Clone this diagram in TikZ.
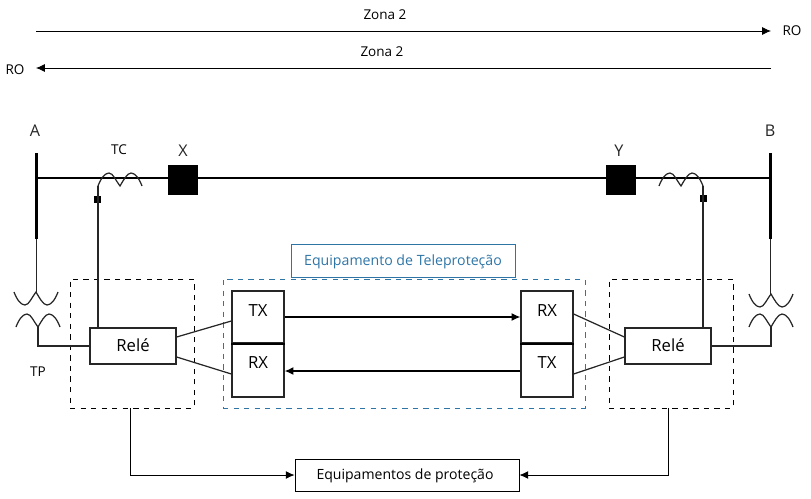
\documentclass[tikz,border=0pt]{standalone}
\usepackage{xcolor}
\usepackage{fontspec}
\setmainfont{Open Sans}
\usetikzlibrary{shapes,arrows,arrows.meta,positioning,fit,backgrounds}
\definecolor{azulteleprot}{HTML}{2E75A6}
\definecolor{linha}{HTML}{262626}
\tikzset{
    caixa/.style={draw=linha, line width=0.75pt, inner sep=0pt, font=\fontsize{9.5}{11}\selectfont},
    tracejado/.style={draw=black, dashed, line width=0.5pt, inner sep=0pt},
    fio/.style={draw=linha, line width=0.7pt},
    seta/.style={-{Latex[length=5pt,width=4.5pt]}, draw=black, line width=0.45pt},
    rotulo/.style={inner sep=0pt, font=\fontsize{7.7}{9}\selectfont},
    letra/.style={inner sep=0pt, text=linha, font=\fontsize{9.2}{11}\selectfont},
    bobina/.pic={
        \draw[linha, line width=0.7pt] (0,0) .. controls (3,-8) and (7,-13) .. (11,-13)
            .. controls (15,-13) and (18,-5) .. (22,0)
            .. controls (25,-5) and (29,-13) .. (33,-13)
            .. controls (37,-13) and (41,-8) .. (44,0);
    }
}
\begin{document}
\begin{tikzpicture}[x=0.02cm, y=-0.02cm]
    \useasboundingbox (0,0) rectangle (811,498);

    % Zonas
    \node[rotulo] (zona1) at (385,15) {Zona 2};
    \node[rotulo] (zona2) at (382,52) {Zona 2};
    \node[rotulo] (ro1) at (792,31) {RO};
    \node[rotulo] (ro2) at (15,70) {RO};
    \coordinate (z1a) at (36,31);
    \coordinate (z1b) at (771,31);
    \coordinate (z2a) at (771,68);
    \coordinate (z2b) at (36,68);
    \draw[seta] (z1a) -- (z1b);
    \draw[seta] (z2a) -- (z2b);

    % Barras e linha
    \node[letra] (barraA) at (35,131) {A};
    \node[letra] (barraB) at (770,131) {B};
    \node[letra] (nomeX) at (183,151) {X};
    \node[letra] (nomeY) at (619,151) {Y};
    \node[rotulo] (tc) at (119,150) {TC};
    \node[rotulo] (tp) at (38,372) {TP};
    \coordinate (a1) at (36.4,153);
    \coordinate (a2) at (36,178);
    \coordinate (a3) at (36.4,239);
    \coordinate (b1) at (770.8,153);
    \coordinate (b2) at (771,178);
    \coordinate (b3) at (770.8,239);
    \draw[line width=1.6pt] (a1) -- (a3);
    \draw[line width=1.6pt] (b1) -- (b3);
    \draw[line width=1.4pt] (a2) -- (b2);
    \node[fill=black, minimum size=0.61cm, inner sep=0pt] (disjX) at (183,180) {};
    \node[fill=black, minimum size=0.61cm, inner sep=0pt] (disjY) at (621,180) {};

    % Caixas tracejadas
    \node[tracejado, minimum width=2.48cm, minimum height=2.58cm] (painelA) at (132,343.5) {};
    \node[tracejado, minimum width=2.48cm, minimum height=2.58cm] (painelB) at (671,343.5) {};
    \node[draw=azulteleprot, dashed, line width=0.5pt, minimum width=7.24cm, minimum height=2.58cm] (painelT) at (404,343.5) {};
    \node[draw=azulteleprot, line width=0.4pt, text=azulteleprot, minimum width=4.48cm, minimum height=0.66cm, inner sep=0pt, text height=0.24cm, text depth=0.06cm, font=\fontsize{8.05}{10}\selectfont] (titulo) at (403,260.5) {Equipamento de Teleproteção};

    % Reles e teleprotecao
    \node[caixa, fill=white, minimum width=1.72cm, minimum height=0.72cm, text depth=0.04cm] (releA) at (133,346) {Relé};
    \node[caixa, fill=white, minimum width=1.72cm, minimum height=0.72cm, text depth=0.04cm] (releB) at (668,346) {Relé};
    \node[caixa, minimum width=1.04cm, minimum height=1.04cm, text depth=0.26cm, fill=white] (txA) at (258,317) {TX};
    \node[caixa, minimum width=1.04cm, minimum height=1.08cm, text depth=0.28cm, fill=white] (rxA) at (258,370) {RX};
    \node[caixa, minimum width=1.04cm, minimum height=1.04cm, text depth=0.26cm, fill=white] (rxB) at (547,317) {RX};
    \node[caixa, minimum width=1.04cm, minimum height=1.08cm, text depth=0.28cm, fill=white] (txB) at (547,370) {TX};
    \draw[line width=1.1pt] (txA.south west) -- (txA.south east);
    \draw[line width=1.1pt] (rxB.south west) -- (rxB.south east);

    % Ligacoes entre reles e equipamentos
    \draw[fio] ([yshift=0.18cm]releA.east) -- ([yshift=-0.08cm]txA.east -| txA.west);
    \draw[fio] ([yshift=-0.22cm]releA.east) -- ([yshift=-0.08cm]rxA.east -| rxA.west);
    \draw[fio] ([yshift=0.06cm]rxB.east) -- ([yshift=0.18cm]releB.west);
    \draw[fio] ([yshift=-0.08cm]txB.east) -- ([yshift=-0.22cm]releB.west);
    \draw[seta, line width=0.6pt] (txA.east) -- (rxB.west);
    \draw[seta, line width=0.7pt] ([yshift=-0.02cm]txB.west) -- ([yshift=-0.02cm]rxA.east);

    % TC
    \pic at (98,186) {bobina};
    \pic at (659,186) {bobina};
    \node[fill=black, minimum size=0.14cm, inner sep=0pt] (marcaA) at (97,199) {};
    \node[fill=black, minimum size=0.14cm, inner sep=0pt] (marcaB) at (703,198) {};
    \coordinate (tcA) at (98,186);
    \coordinate (tcB) at (703,186);
    \draw[fio] (tcA) -- (tcA |- releA.north);
    \draw[fio] (tcB) -- (tcB |- releB.north);

    % TP
    \pic[yscale=-1] at (14,292) {bobina};
    \pic at (16,327) {bobina};
    \pic[yscale=-1] at (749,294) {bobina};
    \pic at (749,327) {bobina};
    \coordinate (tpA1) at (36.4,292);
    \coordinate (tpA2) at (38,327);
    \coordinate (tpB1) at (770.8,294);
    \coordinate (tpB2) at (771,327);
    \draw[fio] (a3) -- (tpA1);
    \draw[fio] (b3) -- (tpB1);
    \draw[fio] (tpA2) |- (releA.west);
    \draw[fio] (tpB2) |- (releB.east);

    % Equipamentos de protecao
    \node[draw=black, line width=0.5pt, inner sep=0pt, minimum width=4.48cm, minimum height=0.64cm, text depth=0.04cm, font=\fontsize{8}{10}\selectfont] (equip) at (407,475) {Equipamentos de proteção\hspace*{0.08cm}};
    \coordinate (saidaA) at (130,408);
    \coordinate (saidaB) at (668,408);
    \draw[seta] (saidaA) |- (equip.west);
    \draw[seta] (saidaB) |- (equip.east);
\end{tikzpicture}
\end{document}
